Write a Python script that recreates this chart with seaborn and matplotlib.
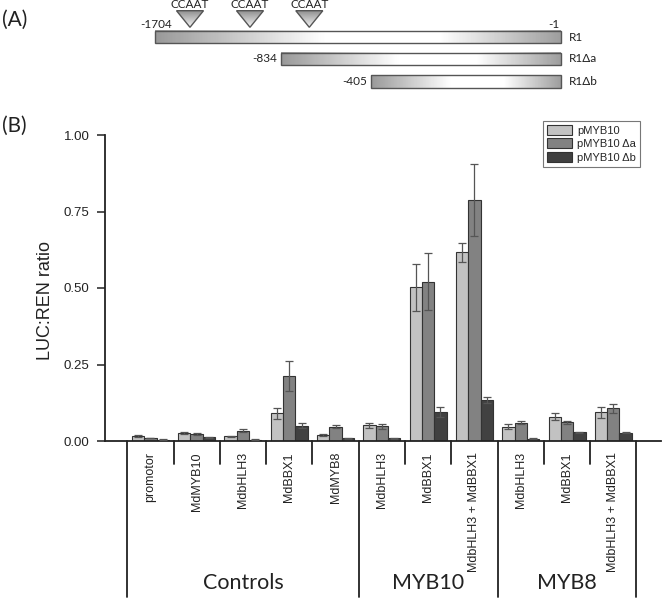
import matplotlib
matplotlib.use("Agg")
import matplotlib.pyplot as plt
import seaborn as sns
import pandas as pd
import numpy as np
from matplotlib.patches import Rectangle, Polygon, Patch

# ---- panel B data ----
groups = ["Controls", "MYB10", "MYB8"]
group_sizes = [5, 3, 3]
treatments = ["promotor", "MdMYB10", "MdbHLH3", "MdBBX1", "MdMYB8",
              "MdbHLH3", "MdBBX1", "MdbHLH3 + MdBBX1",
              "MdbHLH3", "MdBBX1", "MdbHLH3 + MdBBX1"]
constructs = ["pMYB10", "pMYB10 \u0394a", "pMYB10 \u0394b"]

pmyb10 = [0.016, 0.027, 0.015, 0.090, 0.020, 0.051, 0.502, 0.617, 0.046, 0.080, 0.094]
pmyb10_a = [0.010, 0.023, 0.034, 0.213, 0.046, 0.048, 0.521, 0.788, 0.060, 0.061, 0.107]
pmyb10_b = [0.004, 0.012, 0.004, 0.050, 0.009, 0.009, 0.096, 0.134, 0.008, 0.028, 0.027]

se_pmyb10 = [0.002, 0.003, 0.001, 0.017, 0.003, 0.008, 0.077, 0.031, 0.008, 0.010, 0.018]
se_pmyb10_a = [0.001, 0.003, 0.004, 0.049, 0.005, 0.008, 0.092, 0.117, 0.006, 0.005, 0.014]
se_pmyb10_b = [0.001, 0.001, 0.001, 0.008, 0.001, 0.001, 0.016, 0.009, 0.001, 0.001, 0.001]

# ---- panel A schematic ----
fragments = ["R1", "R1\u0394a", "R1\u0394b"]
frag_start = ["-1704", "-834", "-405"]
frag_end = "-1"
motif = "CCAAT"

colors = ["#c2c2c2", "#828282", "#414141"]
ink = "#222222"

sns.set_style("ticks")
plt.rcParams["font.family"] = ["Liberation Sans", "DejaVu Sans"]
label_font = ["Lato", "DejaVu Sans"]

fig = plt.figure(figsize=(6.63, 6.04), dpi=100)

# overlay in pixel coordinates for the schematic and free text
ov = fig.add_axes([0, 0, 1, 1])
ov.axis("off")


def hgrad(n=256):
    t = np.linspace(0, 1, n)
    return np.where(t < 0.42, 0.6 + 0.4 * t / 0.42,
                    np.where(t < 0.7, 1.0, 1.0 - 0.38 * (t - 0.7) / 0.3))


bar_px = [(155, 31, 43.3), (281, 52.7, 65), (371, 75, 88)]
bar_right = 560.7
for (x0, y0, y1), name, start in zip(bar_px, fragments, frag_start):
    ov.imshow(hgrad()[None, :], cmap="gray", vmin=0, vmax=1, aspect="auto",
              extent=(x0, bar_right, y1, y0), interpolation="bilinear")
    ov.add_patch(Rectangle((x0, y0), bar_right - x0, y1 - y0, fill=False,
                           edgecolor="#555555", lw=1.0))
    ov.text(bar_right + 8, (y0 + y1) / 2, name, ha="left", va="center",
            fontsize=8.5, family=label_font, color=ink)
    if name == "R1":
        ov.text(x0 + 1, 24, start, ha="center", va="center", fontsize=8.5,
                family=label_font, color=ink)
        ov.text(bar_right - 1, 24, frag_end, ha="right", va="center",
                fontsize=8.5, family=label_font, color=ink)
    else:
        ov.text(x0 - 4, (y0 + y1) / 2, start, ha="right", va="center",
                fontsize=8.5, family=label_font, color=ink)

vgrad = np.linspace(0.55, 0.95, 64)[:, None]
for cx in [190, 250, 309.3]:
    tri = Polygon([(cx - 13.5, 10.7), (cx + 13.5, 10.7), (cx, 27.3)],
                  closed=True, facecolor="none", edgecolor="#555555", lw=1.0)
    ov.add_patch(tri)
    im = ov.imshow(vgrad, cmap="gray", vmin=0, vmax=1, aspect="auto",
                   extent=(cx - 13.5, cx + 13.5, 27.3, 10.7))
    im.set_clip_path(tri)
    ov.text(cx, 4.5, motif, ha="center", va="center", fontsize=8.5,
            family=label_font, color=ink)

ov.text(2, 20, "(A)", ha="left", va="center", fontsize=15, family=label_font, color=ink)
ov.text(2, 126, "(B)", ha="left", va="center", fontsize=15, family=label_font, color=ink)
ov.text(45, 301, "LUC:REN ratio", rotation=90, ha="center", va="center",
        fontsize=13, color=ink)
ov.set_xlim(0, 663)
ov.set_ylim(604, 0)

# ---- panel B bar chart ----
ax = fig.add_axes([105 / 663, 1 - 441 / 604, 556 / 663, 306 / 604])
ax.patch.set_alpha(0)

keys = [f"{i}" for i in range(len(treatments))]
df = pd.DataFrame({
    "key": keys * 3,
    "construct": np.repeat(constructs, len(keys)),
    "ratio": pmyb10 + pmyb10_a + pmyb10_b,
})
sns.barplot(data=df, x="key", y="ratio", hue="construct", palette=colors,
            errorbar=None, width=0.8, edgecolor="#333333", linewidth=0.8,
            legend=False, ax=ax)

for cont, errs in zip(ax.containers, [se_pmyb10, se_pmyb10_a, se_pmyb10_b]):
    for bar, e in zip(cont, errs):
        ax.errorbar(bar.get_x() + bar.get_width() / 2, bar.get_height(), yerr=e,
                    color="#555555", lw=0.9, capsize=3, capthick=0.9, zorder=5)

ax.set_xlim(-0.98, 11.03)
ax.set_ylim(0, 1.0)
ax.set_yticks([0, 0.25, 0.5, 0.75, 1.0])
ax.set_yticklabels([f"{v:.2f}" for v in [0, 0.25, 0.5, 0.75, 1.0]], fontsize=9.5, color=ink)
ax.set_xticks(range(len(treatments)))
ax.set_xticklabels(treatments, rotation=90, fontsize=9, color=ink)
ax.tick_params(axis="x", length=0, pad=8)
ax.tick_params(axis="y", direction="out", length=6, width=1.1, pad=5, color=ink)
ax.set_xlabel("")
ax.set_ylabel("")
sns.despine(ax=ax)
for s in ["left", "bottom"]:
    ax.spines[s].set_linewidth(1.3)
    ax.spines[s].set_color(ink)

# category separators and group labels below the axis
trans = ax.get_xaxis_transform()
edges = np.cumsum([0] + group_sizes) - 0.5
for b in np.arange(-0.5, len(treatments), 1.0):
    depth = 0.51 if np.isclose(edges, b).any() else 0.075
    ax.plot([b, b], [0, -depth], transform=trans, color=ink, lw=1.3, clip_on=False)
for g, lo, hi in zip(groups, edges[:-1], edges[1:]):
    ax.text((lo + hi) / 2, -0.464, g, transform=trans, ha="center", va="center",
            fontsize=15.5, family=label_font, color=ink)

handles = [Patch(facecolor=c, edgecolor="#333333", lw=0.8, label=l)
           for c, l in zip(colors, constructs)]
leg = ax.legend(handles=handles, loc="upper right", bbox_to_anchor=(640 / 663, 1 - 121 / 604),
                bbox_transform=fig.transFigure, frameon=True, fancybox=False,
                edgecolor="#777777", framealpha=1, fontsize=8, handlelength=2.2,
                handleheight=1.0, labelspacing=0.25, borderpad=0.35,
                handletextpad=0.5, borderaxespad=0)
leg.get_frame().set_linewidth(0.8)

fig.savefig("out.png", dpi=100)
